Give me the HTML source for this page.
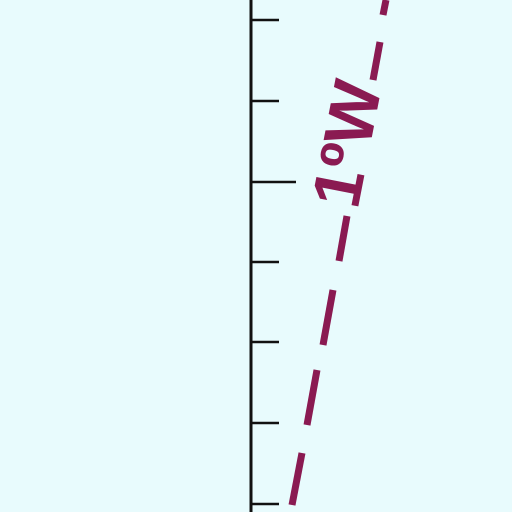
<!DOCTYPE html>
<html><head><style>html,body{margin:0;padding:0;background:#e8fbfd;}svg{display:block}</style></head>
<body>
<svg width="512" height="512">
<rect width="512" height="512" fill="#e8fbfd"/>
<line x1="251" y1="0" x2="251" y2="512" stroke="#111" stroke-width="3"/>
<g stroke="#111" stroke-width="2.5">
<line x1="251" y1="20" x2="279" y2="20"/>
<line x1="251" y1="101" x2="279" y2="101"/>
<line x1="251" y1="182" x2="296" y2="182"/>
<line x1="251" y1="262" x2="279" y2="262"/>
<line x1="251" y1="342" x2="279" y2="342"/>
<line x1="251" y1="423" x2="279" y2="423"/>
<line x1="251" y1="504" x2="279" y2="504"/>
</g>
<g stroke="#8a1a52" stroke-width="7">
<line x1="386" y1="0" x2="383" y2="15"/>
<line x1="380" y1="42" x2="373" y2="80"/>
<line x1="347" y1="216" x2="339" y2="261"/>
<line x1="333" y1="290" x2="323" y2="345"/>
<line x1="317" y1="370" x2="307" y2="425"/>
<line x1="302" y1="453" x2="292" y2="505"/>
</g>
<text x="0" y="0" transform="translate(352,145) rotate(-79)" font-family="Liberation Sans, sans-serif" font-size="68" font-weight="bold" fill="#8a1a52" text-anchor="middle" dominant-baseline="middle">1ºW</text>
</svg>
</body></html>
